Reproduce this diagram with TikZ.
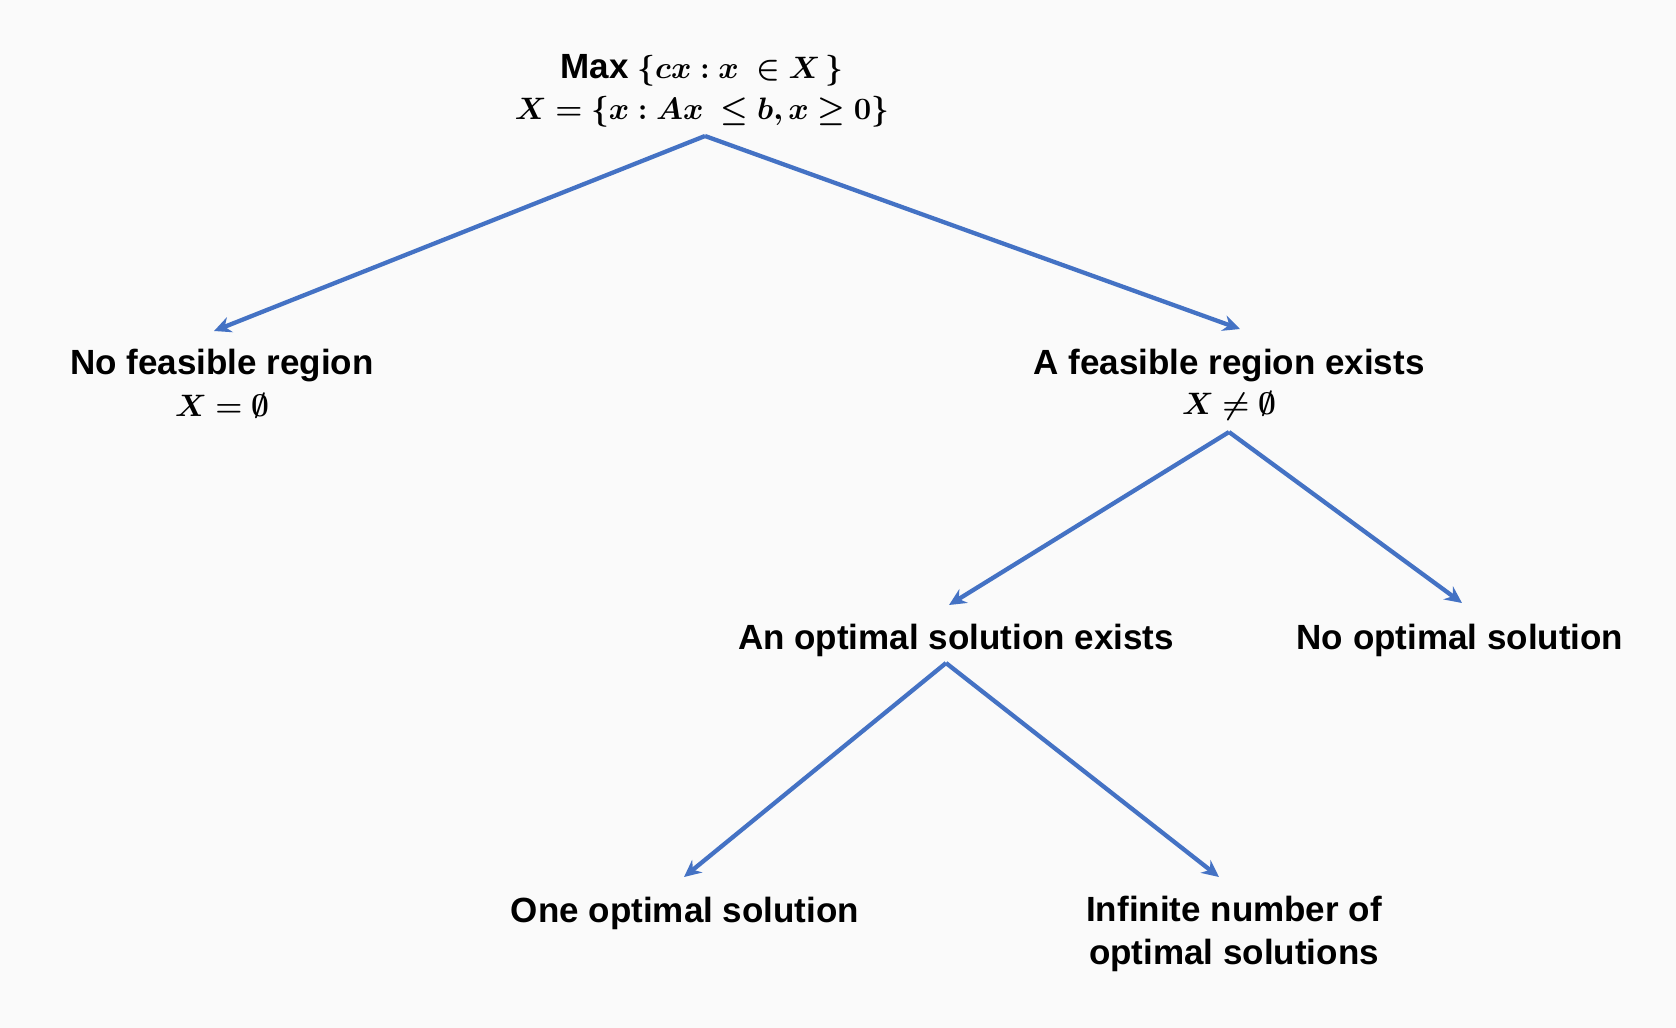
\documentclass[tikz,border=0pt]{standalone}
\usepackage{fix-cm}
\usepackage{fontspec}
\usepackage{amsmath,bm}
\setmainfont{Liberation Sans}
\usetikzlibrary{arrows.meta}
\definecolor{bg}{RGB}{250,250,250}
\definecolor{arr}{RGB}{68,114,196}
\begin{document}
\begin{tikzpicture}[x=1pt,y=-1pt,
  lbl/.style={font=\bfseries\fontsize{35}{43}\selectfont, inner sep=0pt, align=center},
  mth/.style={font=\fontsize{31}{43}\selectfont, inner sep=0pt},
  conn/.style={draw=arr, line width=4.3pt, -{Stealth[length=17pt,width=16pt]}}]
\fill[bg] (0,0) rectangle (1676,1028);
\useasboundingbox (0,0) rectangle (1676,1028);
\node[mth] (t1) at (702,70) {\textbf{\fontsize{35}{43}\selectfont Max} $\bm{\{cx : x\; \in X\,\}}$};
\node[mth] (t2) at (702,112) {$\bm{X=\{x : Ax\; \le b, x \ge 0\}}$};
\coordinate (a0) at (705,136);
\node[lbl] (nf) at (222,366) {No feasible region};
\node[mth] (nf2) at (222,406) {$\bm{X=\emptyset}$};
\node[lbl] (fe) at (1229,366) {A feasible region exists};
\node[mth] (fe2) at (1229,406) {$\bm{X\neq\emptyset}$};
\coordinate (a1) at (1229,432);
\node[lbl] (oe) at (956,640) {An optimal solution exists};
\node[lbl] (no) at (1460,640) {No optimal solution};
\coordinate (a2) at (946,663);
\node[lbl] (one) at (685,913) {One optimal solution};
\node[lbl] (inf) at (1234,934) {Infinite number of\\optimal solutions};
\coordinate (n1) at (214,331);
\coordinate (n2) at (1240,329);
\coordinate (n3) at (949,605);
\coordinate (n4) at (1462,603);
\coordinate (n5) at (684,877);
\coordinate (n6) at (1219,877);
\draw[conn] (a0) -- (n1);
\draw[conn] (a0) -- (n2);
\draw[conn] (a1) -- (n3);
\draw[conn] (a1) -- (n4);
\draw[conn] (a2) -- (n5);
\draw[conn] (a2) -- (n6);
\end{tikzpicture}
\end{document}
